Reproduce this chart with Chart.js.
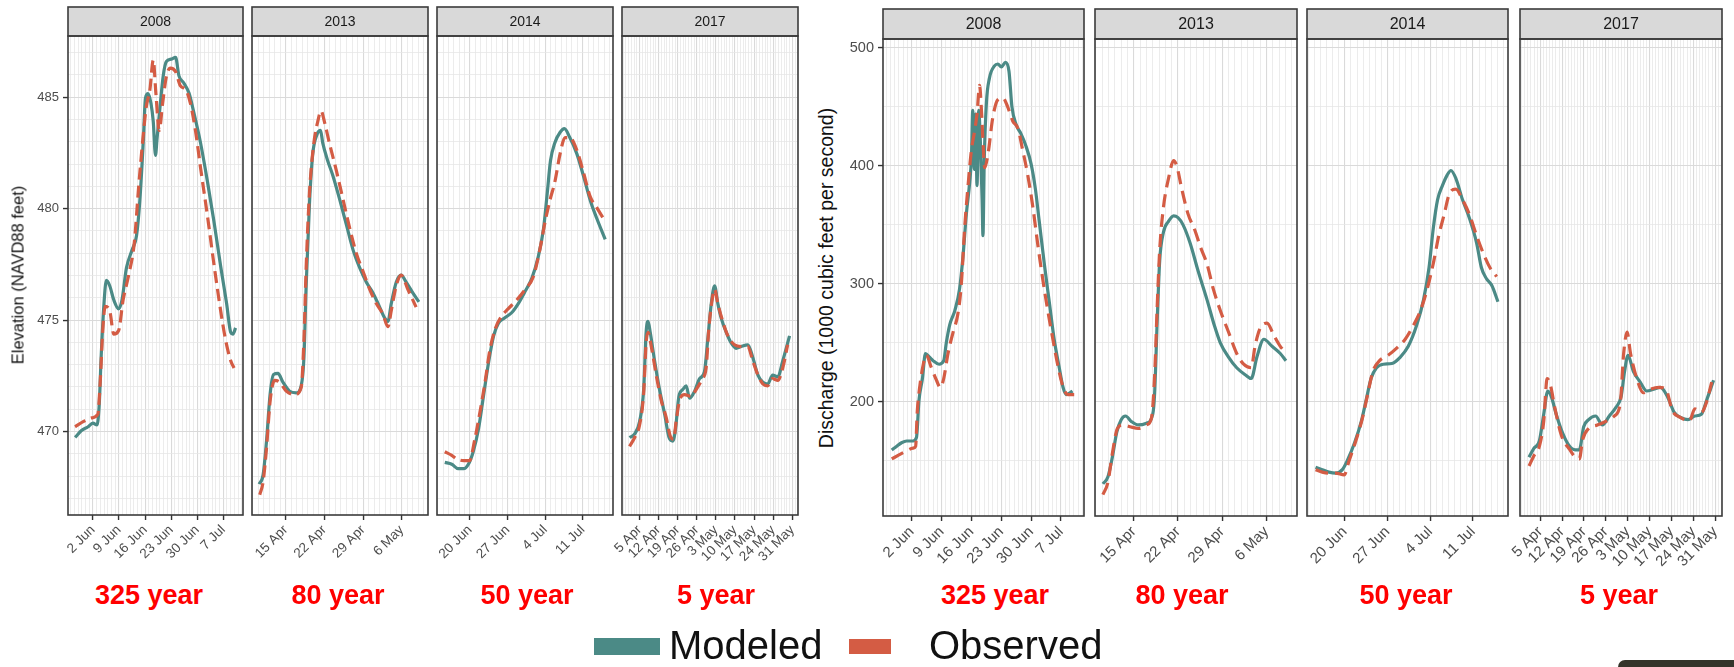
<!DOCTYPE html>
<html>
<head>
<meta charset="utf-8">
<script src="https://cdn.jsdelivr.net/npm/chart.js@4.4.0/dist/chart.umd.min.js"></script>
<style>
  html, body { margin: 0; padding: 0; background: #fff; }
  #wrap { position: relative; width: 1734px; height: 667px; overflow: hidden; font-family: "Liberation Sans", Arial, sans-serif; }
  canvas { position: absolute; }
  .ytitle { position: absolute; white-space: nowrap; color: #111; transform: translate(-50%, -50%) rotate(-90deg); }
  .period { position: absolute; top: 582px; color: #ff0000; font-weight: bold; font-size: 27px; line-height: 27px; transform: translateX(-50%); white-space: nowrap; }
  .key { position: absolute; }
  .ktext { position: absolute; top: 625px; font-size: 40px; line-height: 40px; color: #111; white-space: nowrap; }
</style>
</head>
<body>
<div id="wrap"></div>
<script>
/* ── data ──────────────────────────────────────────────────────────
   x = day of year, y = elevation (ft) or discharge (1000 cfs)        */
const years   = ['2008', '2013', '2014', '2017'];
const periods = ['325 year', '80 year', '50 year', '5 year'];

const elevTicks  = [470, 475, 480, 485];
const dischTicks = [200, 300, 400, 500];

const weekDays2008 = [154, 161, 168, 175, 182, 189];
const weekLbls2008 = ['2 Jun', '9 Jun', '16 Jun', '23 Jun', '30 Jun', '7 Jul'];
const weekDays2013 = [105, 112, 119, 126];
const weekLbls2013 = ['15 Apr', '22 Apr', '29 Apr', '6 May'];
const weekDays2014 = [171, 178, 185, 192];
const weekLbls2014 = ['20 Jun', '27 Jun', '4 Jul', '11 Jul'];
const weekDays2017 = [95, 102, 109, 116, 123, 130, 137, 144, 151];
const weekLbls2017 = ['5 Apr', '12 Apr', '19 Apr', '26 Apr', '3 May', '10 May', '17 May', '24 May', '31 May'];

// Elevation, 2008
const elev08ModX = [149.2,151.0,152.6,154.0,155.1,155.7,156.2,156.9,157.6,158.5,159.6,160.9,161.8,163.0,164.5,165.7,166.6,167.5,168.1,168.8,169.6,170.2,170.8,171.2,172.0,172.9,173.7,175.0,176.2,177.1,178.4,179.8,181.1,182.9,184.7,186.5,188.3,189.9,191.0,191.6,192.3];
const elev08ModY = [469.73,470.05,470.2,470.37,470.29,471.25,473.33,475.58,476.78,476.54,475.9,475.5,475.9,477.34,478.14,478.78,480.38,482.95,484.95,485.16,484.71,483.91,482.39,483.11,484.55,485.99,486.6,486.71,486.79,485.96,485.64,485.19,484.31,482.95,481.27,479.42,477.42,475.74,474.45,474.37,474.65];
const elev08ObsX = [149.2,151.5,153.7,155.3,156.0,156.6,157.3,158.5,159.6,160.9,162.1,163.6,165.1,166.3,167.4,168.3,169.3,170.2,170.9,171.8,172.7,173.7,174.8,176.2,177.5,178.9,180.2,181.6,182.9,184.7,186.5,188.3,189.6,191.0,191.9];
const elev08ObsY = [470.21,470.45,470.61,470.77,472.37,474.45,475.61,475.42,474.37,474.53,475.9,477.02,478.46,481.03,483.11,484.55,485.35,486.67,485.19,483.51,484.71,485.91,486.31,486.15,485.51,485.35,484.71,483.43,481.83,479.74,477.5,475.42,474.13,473.17,472.85];

// Elevation, 2013
const elev13ModX = [100.2,100.9,101.5,102.2,102.8,103.6,104.5,105.7,106.9,107.8,108.3,108.7,109.3,109.9,110.7,111.3,111.7,112.6,113.5,114.8,116.0,117.2,118.4,119.6,120.8,122.0,122.9,123.5,124.1,125.0,125.9,126.8,128.0,129.1];
const elev13ModY = [467.64,468.04,469.49,471.73,472.56,472.61,472.21,471.81,471.73,472.05,473.33,476.54,480.22,482.47,483.35,483.51,482.95,482.15,481.51,480.38,479.26,478.14,477.34,476.7,476.22,475.58,475.1,474.94,475.74,476.7,477.02,476.7,476.22,475.82];
const elev13ObsX = [100.3,100.9,101.5,102.2,103.0,103.9,105.1,106.6,107.8,108.3,108.7,109.3,110.1,110.8,111.4,112.0,112.9,114.2,115.4,116.6,117.8,119.0,120.2,121.4,122.6,123.5,124.1,125.0,125.9,127.1,128.6];
const elev13ObsY = [467.16,467.72,469.17,471.41,472.29,472.21,471.81,471.65,471.97,474.13,477.34,480.71,482.95,483.91,484.39,483.91,482.95,481.67,480.38,479.1,477.98,477.18,476.38,475.74,475.26,474.7,475.42,476.54,477.02,476.38,475.58];

// Elevation, 2014
const elev14ModX = [166.3,167.6,168.8,169.8,170.7,171.6,172.6,173.5,174.4,175.4,176.3,177.5,178.8,180.0,181.3,182.5,183.7,184.7,185.4,186.0,186.8,187.8,188.6,189.6,190.9,192.1,193.4,194.6,196.2];
const elev14ModY = [468.61,468.53,468.33,468.33,468.53,469.09,470.13,471.57,473.01,474.29,474.86,475.1,475.34,475.74,476.3,476.86,477.82,479.1,480.71,482.15,482.95,483.43,483.59,483.19,482.47,481.51,480.38,479.58,478.62];
const elev14ObsX = [166.3,167.6,168.5,169.8,170.9,171.9,172.9,173.8,174.7,175.7,176.9,178.1,179.7,181.3,182.8,184.0,185.0,185.9,186.8,187.8,188.7,189.6,190.9,192.1,193.4,194.6,195.8];
const elev14ObsY = [469.09,468.93,468.77,468.69,468.69,469.65,470.93,472.21,473.65,474.61,475.18,475.5,475.9,476.38,476.94,478.14,479.42,480.38,481.19,482.47,483.19,483.19,482.63,481.67,480.54,480.06,479.58];

// Elevation, 2017
const elev17ModX = [91.3,93.2,95.0,96.5,97.4,98.1,98.9,100.5,102.3,104.2,105.8,107.2,108.2,109.4,110.9,112.1,113.3,115.2,117.0,118.8,120.0,121.3,122.5,123.7,124.9,126.8,128.6,130.4,132.2,134.7,136.5,138.4,140.2,142.0,143.8,145.7,147.5,150.0];
const elev17ModY = [469.73,469.89,470.45,471.89,474.45,474.94,474.45,473.17,471.89,470.77,469.73,469.57,470.13,471.57,471.89,472.05,471.49,471.81,472.37,472.69,474.13,475.74,476.54,475.74,475.1,474.45,473.97,473.73,473.81,473.89,473.33,472.53,472.21,472.13,472.53,472.45,473.17,474.29];
const elev17ObsX = [91.3,93.2,95.0,96.5,97.4,98.1,99.3,101.1,102.9,104.8,106.2,107.5,108.4,109.7,111.5,113.9,115.8,118.0,119.4,120.4,121.6,122.5,123.7,125.5,127.4,129.8,132.2,134.7,136.5,138.4,140.2,142.0,143.8,145.7,147.5,149.3];
const elev17ObsY = [469.33,469.73,470.29,471.73,473.97,474.45,473.81,472.53,471.41,470.61,469.81,469.65,470.45,471.41,471.65,471.57,471.89,472.37,472.85,474.61,475.9,476.38,475.74,474.94,474.29,473.89,473.81,473.81,473.17,472.53,472.13,472.05,472.37,472.29,472.85,473.89];

// Discharge, 2008
const disc08ModX = [149.3,150.4,151.6,152.8,154.3,155.1,155.7,156.5,157.2,158.1,159.0,160.4,161.5,162.1,162.9,164.1,165.2,166.0,166.8,167.6,168.0,168.3,168.7,169.0,169.3,169.7,170.1,170.5,170.7,171.0,171.5,172.2,173.4,174.2,175.0,176.0,176.8,177.5,178.5,179.6,180.8,182.0,183.0,183.9,185.1,186.3,187.4,188.6,189.5,190.3,191.1,191.7];
const disc08ModY = [159.1,162.1,165.2,166.7,166.7,169.7,201.5,219.7,240.9,237.9,234.8,231.8,234.8,250.0,265.2,277.3,295.5,322.7,359.1,386.4,407.6,447.0,397.0,443.9,383.3,447.0,419.7,371.2,340.9,404.5,453.0,474.2,484.8,486.4,483.9,487.9,480.3,450.0,434.8,427.3,416.7,401.5,380.3,353.0,316.7,283.3,253.0,228.8,212.1,206.1,207.6,209.1];
const disc08ObsX = [149.3,150.8,152.4,154.3,154.9,155.3,155.9,156.7,157.4,158.6,159.8,160.7,161.5,162.5,163.7,164.8,165.6,166.4,167.2,168.0,168.7,169.3,169.9,170.3,170.8,171.1,171.9,173.0,174.2,175.4,176.5,177.7,178.9,180.0,181.2,182.4,183.5,184.7,185.9,187.1,188.2,189.4,190.6,192.1];
const disc08ObsY = [151.5,154.5,157.6,160.6,162.1,192.4,213.6,231.8,239.4,228.8,218.2,212.1,219.7,240.9,259.1,274.2,298.5,347.0,383.3,413.6,428.8,443.9,468.2,450.0,413.6,398.5,410.6,440.9,456.1,457.6,450.0,437.9,431.8,413.6,392.4,365.2,334.8,304.5,277.3,253.0,231.8,213.6,206.1,206.1];

// Discharge, 2013
const disc13ModX = [100.1,100.9,101.6,102.3,103.0,103.7,104.6,105.7,107.0,108.0,108.3,108.7,109.1,109.7,110.5,111.3,112.0,112.8,113.9,115.2,116.6,117.8,118.7,120.0,121.3,122.7,123.6,124.5,125.6,126.9,128.2,129.1];
const disc13ModY = [130.3,136.4,153.0,174.2,184.8,187.9,183.3,180.3,181.8,189.4,207.6,268.2,319.7,343.9,353.0,357.6,356.1,350.0,334.8,310.6,286.4,264.0,250.0,237.9,228.8,222.7,219.7,237.9,253.0,247.0,240.9,234.8];
const disc13ObsX = [100.1,100.9,101.6,102.4,103.3,104.4,105.7,107.0,107.8,108.3,108.7,109.1,109.7,110.5,111.3,111.8,112.6,113.6,114.7,115.5,116.6,117.6,118.7,120.0,121.3,122.4,123.6,124.2,125.0,126.1,127.2,128.2,129.2];
const disc13ObsY = [121.2,131.8,156.1,177.3,180.3,178.8,177.3,180.3,186.4,222.7,280.3,328.8,365.2,389.4,404.5,400.0,380.3,359.1,345.0,332.0,316.7,295.5,277.3,259.1,240.9,231.8,228.8,247.0,262.1,266.7,256.1,247.0,240.9];

// Discharge, 2014
const disc14ModX = [166.2,167.3,168.4,169.5,170.6,171.4,172.6,173.7,174.5,175.3,176.2,177.3,178.7,180.1,181.4,182.8,183.9,184.8,185.5,186.2,187.0,187.8,188.4,189.2,190.3,191.4,192.6,193.4,194.2,195.1,196.1];
const disc14ModY = [144.5,142.4,140.3,139.4,142.4,150.0,165.2,183.3,201.5,219.7,228.8,231.8,232.4,237.9,247.0,265.2,286.4,313.6,347.0,371.2,383.3,392.4,396.1,389.4,371.2,356.1,334.8,313.6,304.5,298.5,284.8];
const disc14ObsX = [166.2,167.3,168.4,169.5,170.9,171.7,172.8,173.9,174.8,175.6,176.7,178.1,179.5,180.9,182.3,183.4,184.5,185.6,186.4,187.3,188.1,189.2,190.3,191.4,192.6,193.7,194.8,195.9];
const disc14ObsY = [142.4,140.3,139.4,139.4,137.9,150.0,166.7,186.4,207.6,225.8,234.8,239.4,245.5,253.0,265.2,277.3,295.5,319.7,340.9,359.1,375.8,380.3,371.2,359.1,340.9,325.8,313.6,306.1];

// Discharge, 2017
const disc17ModX = [91.4,93.0,94.7,96.1,97.4,98.5,100.1,101.8,104.0,106.2,107.5,108.9,110.5,112.7,114.9,117.1,119.3,120.9,122.0,123.1,124.8,127.0,129.1,131.3,133.5,135.7,137.9,140.1,142.3,144.5,146.6,148.3,150.5];
const disc17ModY = [153.0,160.6,166.7,189.4,209.1,204.5,189.4,175.8,163.6,159.1,159.1,178.8,184.8,187.9,180.3,187.9,195.5,204.5,225.8,239.4,225.8,216.7,209.1,210.6,212.1,204.5,190.9,186.4,184.8,187.9,189.4,201.5,218.2];
const disc17ObsX = [91.4,93.0,94.7,96.1,97.2,98.3,99.6,101.8,104.5,106.2,107.5,108.6,110.5,113.3,116.0,118.7,120.6,121.7,122.8,123.9,125.9,128.0,130.2,133.0,135.2,137.3,140.1,142.8,144.5,146.6,148.3,149.9];
const disc17ObsY = [145.5,154.5,162.1,183.3,219.7,213.6,195.5,171.2,159.1,153.0,151.5,168.2,177.3,180.3,183.3,187.9,198.5,240.9,259.0,240.9,219.7,207.6,210.6,212.1,210.6,192.4,186.4,183.9,193.9,190.9,200.0,216.7];

/* ── look ─────────────────────────────────────────────────────────── */
const TEAL = '#4b8a86';
const RED  = '#d45c44';
const FONT = '"Liberation Sans", Arial, sans-serif';
const wrap = document.getElementById('wrap');

const zip = (xs, ys) => xs.map((x, i) => ({ x, y: ys[i] }));
const range = (a, b, step) => { const r = []; for (let v = Math.ceil(a / step) * step; v <= b + 1e-9; v += step) r.push(+v.toFixed(3)); return r; };

// strip + panel border, drawn on top like ggplot's theme_bw
const framePlugin = {
  id: 'frame',
  afterDraw(chart, _args, o) {
    const { ctx, chartArea: a } = chart;
    ctx.save();
    ctx.fillStyle = '#d9d9d9';
    ctx.fillRect(a.left, o.top, a.right - a.left, a.top - o.top);
    ctx.lineWidth = 1.6;
    ctx.strokeStyle = '#3b3b3b';
    ctx.strokeRect(a.left, o.top, a.right - a.left, a.top - o.top);
    ctx.strokeRect(a.left, a.top, a.right - a.left, a.bottom - a.top);
    ctx.fillStyle = '#1a1a1a';
    ctx.font = `${o.size}px ${FONT}`;
    ctx.textAlign = 'center';
    ctx.textBaseline = 'middle';
    ctx.fillText(o.text, (a.left + a.right) / 2, (o.top + a.top) / 2 + 1);
    ctx.restore();
  }
};

function addPanel(p) {
  const first = p.axisW > 0;
  const padL = first ? 0 : 30;          // room for the first rotated date label
  const left = p.x0 - p.axisW - padL;
  const top  = p.stripTop - 2;
  const w = p.x1 - left + 4;
  const h = 580 - top;
  const cv = document.createElement('canvas');
  cv.width = w; cv.height = h;
  cv.style.left = left + 'px'; cv.style.top = top + 'px';
  cv.style.width = w + 'px'; cv.style.height = h + 'px';
  wrap.appendChild(cv);

  const xMajor = new Map(p.weekDays.map((d, i) => [d, p.weekLbls[i]]));
  const yMajor = new Set(p.yTicks);
  const isXMajor = c => c.tick && xMajor.has(c.tick.value);
  const isYMajor = c => c.tick && yMajor.has(c.tick.value);

  new Chart(cv, {
    type: 'line',
    data: {
      datasets: [
        { label: 'Observed', data: zip(p.obsX, p.obsY), borderColor: RED, borderWidth: 3.2,
          borderDash: p.dash, borderCapStyle: 'butt', pointRadius: 0, fill: false,
          cubicInterpolationMode: 'monotone' },
        { label: 'Modeled', data: zip(p.modX, p.modY), borderColor: TEAL, borderWidth: 3.2,
          pointRadius: 0, fill: false, cubicInterpolationMode: 'monotone' }
      ]
    },
    options: {
      responsive: false,
      animation: false,
      devicePixelRatio: 1,
      events: [],
      layout: { padding: { top: p.panelTop - top, right: 4, left: padL, bottom: 0 } },
      plugins: {
        legend: { display: false },
        tooltip: { enabled: false },
        frame: { top: 2, text: p.year, size: p.stripSize }
      },
      scales: {
        x: {
          type: 'linear', min: p.xMin, max: p.xMax,
          afterBuildTicks: s => { s.ticks = range(p.xMin, p.xMax, 1).map(v => ({ value: v })); },
          afterFit: s => { s.height = 580 - p.panelBottom; s.paddingLeft = 0; s.paddingRight = 0; },
          border: { display: false },
          grid: {
            color: c => isXMajor(c) ? '#dadada' : '#e6e6e6',
            lineWidth: c => isXMajor(c) ? 1.1 : 0.75,
            tickLength: 5, tickWidth: 1.4,
            tickColor: c => isXMajor(c) ? '#333' : 'rgba(0,0,0,0)'
          },
          ticks: {
            autoSkip: false, minRotation: 45, maxRotation: 45, padding: 2,
            color: '#4d4d4d', font: { family: FONT, size: p.tickSize },
            callback: v => xMajor.get(v) || ''
          }
        },
        y: {
          min: p.yMin, max: p.yMax,
          afterBuildTicks: s => { s.ticks = range(p.yMin, p.yMax, p.yMinor).map(v => ({ value: v })); },
          afterFit: s => { s.width = p.axisW; s.paddingTop = 0; s.paddingBottom = 0; },
          border: { display: false },
          grid: {
            color: c => isYMajor(c) ? '#dadada' : '#e6e6e6',
            lineWidth: c => isYMajor(c) ? 1.1 : 0.75,
            drawTicks: first, tickLength: 5, tickWidth: 1.4,
            tickColor: c => isYMajor(c) ? '#333' : 'rgba(0,0,0,0)'
          },
          ticks: {
            display: first, padding: 4,
            color: '#4d4d4d', font: { family: FONT, size: p.ySize },
            callback: v => yMajor.has(v) ? String(v) : ''
          }
        }
      }
    },
    plugins: [framePlugin]
  });
}

/* ── panels ───────────────────────────────────────────────────────── */
const xRanges = { '2008': [147.3, 194.3], '2013': [98.9, 130.75], '2014': [164.85, 197.65], '2017': [88.55, 153.1] };
const weeks = {
  '2008': [weekDays2008, weekLbls2008], '2013': [weekDays2013, weekLbls2013],
  '2014': [weekDays2014, weekLbls2014], '2017': [weekDays2017, weekLbls2017]
};
const elevSeries = [
  [elev08ModX, elev08ModY, elev08ObsX, elev08ObsY], [elev13ModX, elev13ModY, elev13ObsX, elev13ObsY],
  [elev14ModX, elev14ModY, elev14ObsX, elev14ObsY], [elev17ModX, elev17ModY, elev17ObsX, elev17ObsY]
];
const discSeries = [
  [disc08ModX, disc08ModY, disc08ObsX, disc08ObsY], [disc13ModX, disc13ModY, disc13ObsX, disc13ObsY],
  [disc14ModX, disc14ModY, disc14ObsX, disc14ObsY], [disc17ModX, disc17ModY, disc17ObsX, disc17ObsY]
];

const leftX  = [[68, 243], [252, 428], [437, 613], [622, 798]];
const rightX = [[883, 1084], [1095, 1297], [1307, 1508], [1520, 1722]];

years.forEach((yr, i) => {
  const [modX, modY, obsX, obsY] = elevSeries[i];
  addPanel({
    year: yr, x0: leftX[i][0], x1: leftX[i][1], axisW: i === 0 ? 68 : 0,
    stripTop: 7, panelTop: 36, panelBottom: 515,
    xMin: xRanges[yr][0], xMax: xRanges[yr][1], weekDays: weeks[yr][0], weekLbls: weeks[yr][1],
    yMin: 466.25, yMax: 487.75, yMinor: 1, yTicks: elevTicks,
    modX, modY, obsX, obsY, dash: [12, 6], stripSize: 14, tickSize: 13.5, ySize: 13
  });
});
years.forEach((yr, i) => {
  const [modX, modY, obsX, obsY] = discSeries[i];
  addPanel({
    year: yr, x0: rightX[i][0], x1: rightX[i][1], axisW: i === 0 ? 43 : 0,
    stripTop: 9, panelTop: 39, panelBottom: 516,
    xMin: xRanges[yr][0] - 0.05, xMax: xRanges[yr][1] + 0.1, weekDays: weeks[yr][0], weekLbls: weeks[yr][1],
    yMin: 103.1, yMax: 507.6, yMinor: 50, yTicks: dischTicks,
    modX, modY, obsX, obsY, dash: [13, 7], stripSize: 16, tickSize: 15, ySize: 14.5
  });
});

/* ── titles, return periods, legend ───────────────────────────────── */
function addDiv(cls, text, css) {
  const d = document.createElement('div');
  d.className = cls;
  if (text) d.textContent = text;
  Object.assign(d.style, css);
  wrap.appendChild(d);
  return d;
}
addDiv('ytitle', 'Elevation (NAVD88 feet)', { left: '18px', top: '275px', fontSize: '16.5px' });
addDiv('ytitle', 'Discharge (1000 cubic feet per second)', { left: '826px', top: '278px', fontSize: '19.5px' });

const periodCenters = [149, 338, 527, 716, 995, 1182, 1406, 1619];
periodCenters.forEach((cx, i) => addDiv('period', periods[i % 4], { left: cx + 'px' }));

addDiv('key', '', { left: '594px', top: '638px', width: '66px', height: '17px', background: TEAL });
addDiv('ktext', 'Modeled', { left: '669px' });
addDiv('key', '', { left: '849px', top: '639px', width: '42px', height: '15px', background: RED });
addDiv('ktext', 'Observed', { left: '929px' });
addDiv('key', '', { left: '1618px', top: '660px', width: '130px', height: '20px', background: '#34342a', borderRadius: '7px' });
</script>
</body>
</html>
